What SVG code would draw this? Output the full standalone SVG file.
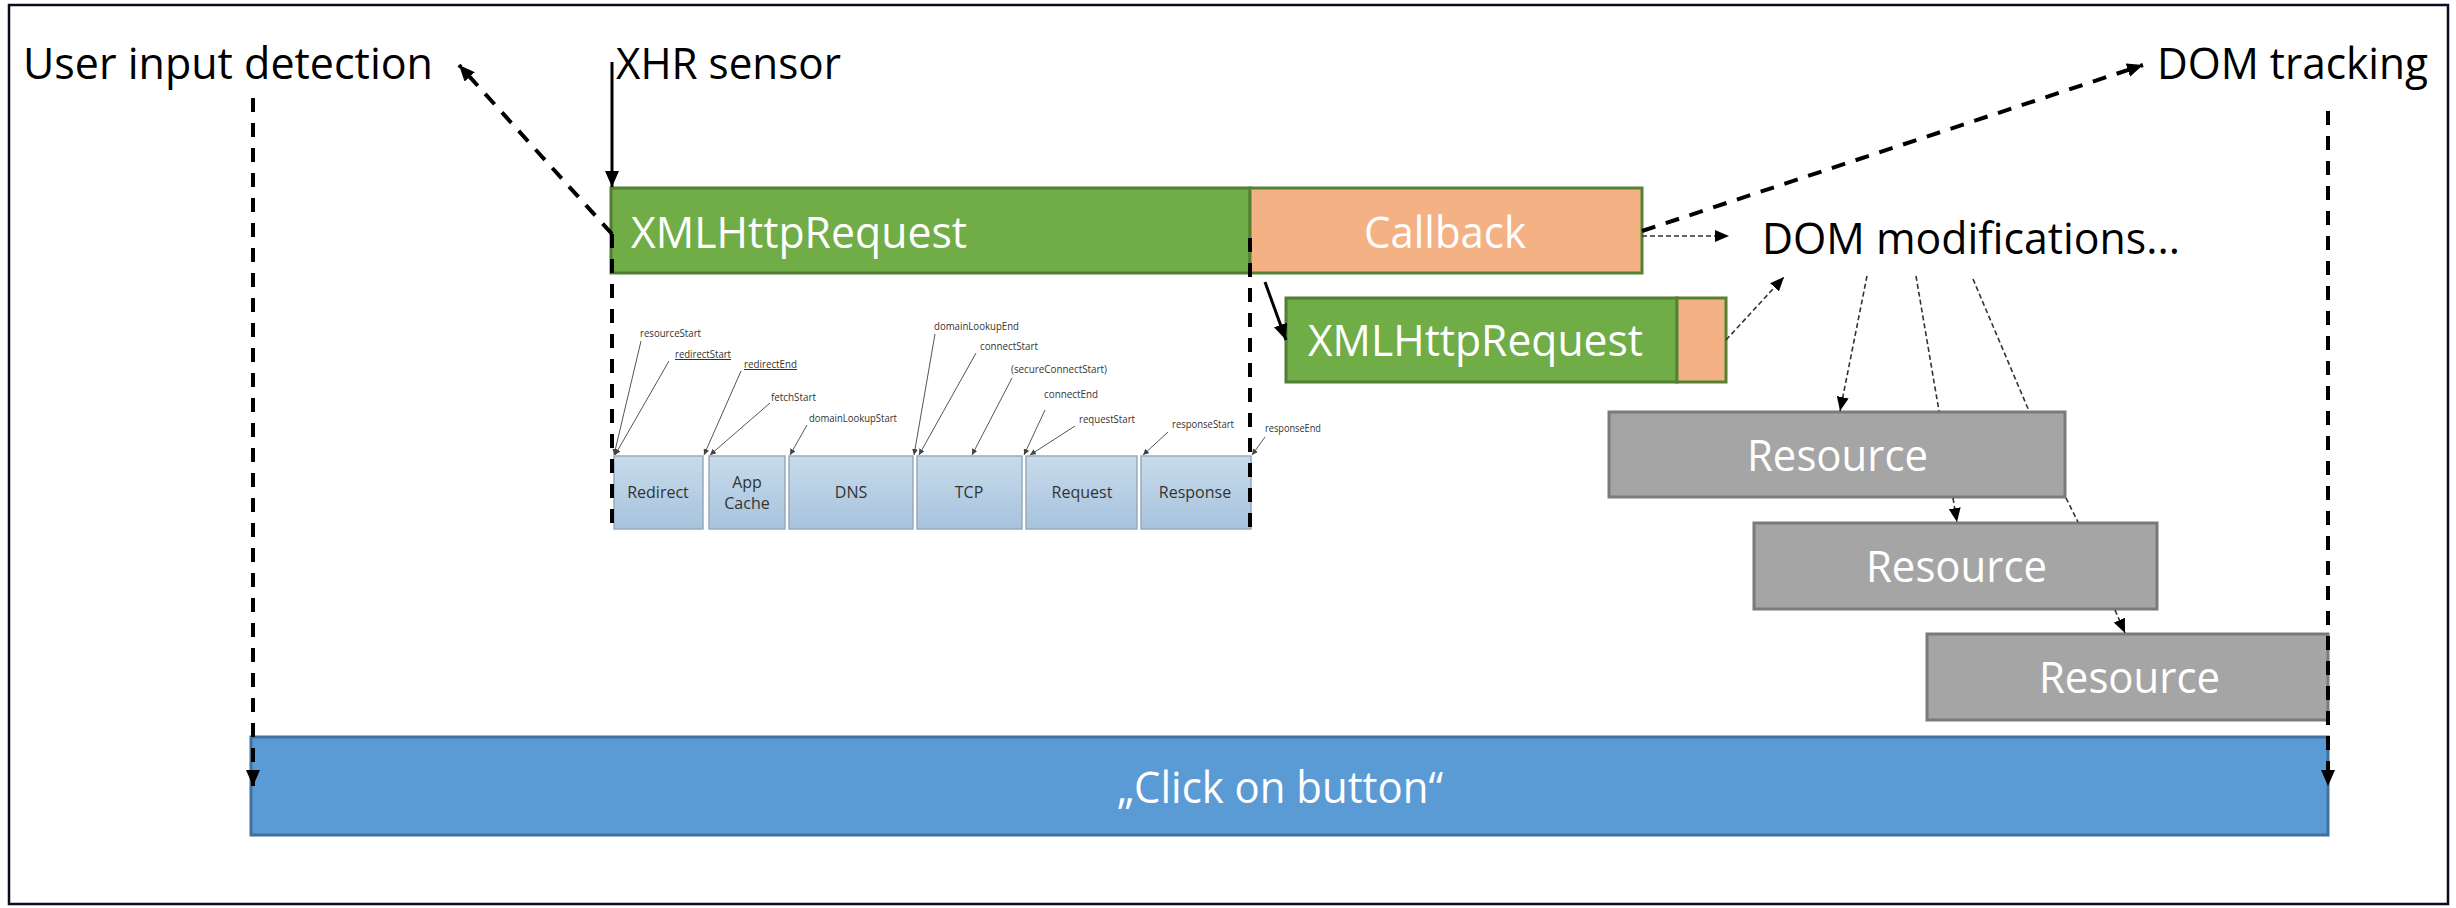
<svg xmlns="http://www.w3.org/2000/svg" width="2456" height="908" viewBox="0 0 2456 908">
  <style>
    .lbl { font-family: "Open Sans", "Liberation Sans", sans-serif; font-size: 44px; fill: #000; }
    .in { font-family: "Open Sans", "Liberation Sans", sans-serif; font-size: 44px; fill: #fff; }
    .tbox { fill: url(#tgrad); stroke: #98aabb; stroke-width: 1.5; }
    .tlbl { font-family: "Open Sans", "Liberation Sans", sans-serif; font-size: 16px; fill: #333; text-anchor: middle; }
    .ann { font-family: "Open Sans", "Liberation Sans", sans-serif; font-size: 10px; fill: #333; }
    .annl { stroke: #555; stroke-width: 1; fill: none; marker-end: url(#tip); }
    .thick { stroke: #000; stroke-width: 4; fill: none; stroke-dasharray: 14 11; }
    .solid { stroke: #000; stroke-width: 3; fill: none; }
    .dot { stroke: #333; stroke-width: 1.6; fill: none; stroke-dasharray: 5 3; }
    .green { fill: #70ad47; stroke: #507e32; stroke-width: 3; }
    .orange { fill: #f4b183; stroke: #548235; stroke-width: 3; }
    .gray { fill: #a5a5a5; stroke: #7a7a7a; stroke-width: 3; }
    .blue { fill: #5b9bd5; stroke: #41719c; stroke-width: 3; }
  </style>
  <defs>
    <linearGradient id="tgrad" x1="0" y1="0" x2="0" y2="1">
      <stop offset="0" stop-color="#c8dbec"/>
      <stop offset="1" stop-color="#a7c3dd"/>
    </linearGradient>
    <marker id="ah" viewBox="0 0 16 14" refX="16" refY="7" markerWidth="16" markerHeight="14" markerUnits="userSpaceOnUse" orient="auto">
      <path d="M0,0 L16,7 L0,14 z" fill="#000"/>
    </marker>
    <marker id="ahs" viewBox="0 0 14 12" refX="14" refY="6" markerWidth="14" markerHeight="12" markerUnits="userSpaceOnUse" orient="auto">
      <path d="M0,0 L14,6 L0,12 z" fill="#000"/>
    </marker>
    <marker id="tip" viewBox="0 0 6 6" refX="6" refY="3" markerWidth="6" markerHeight="6" markerUnits="userSpaceOnUse" orient="auto">
      <path d="M0,0 L6,3 L0,6 z" fill="#444"/>
    </marker>
  </defs>

  <rect x="0" y="0" width="2456" height="908" fill="#fff"/>
  <rect x="9" y="5" width="2439" height="899" fill="#fff" stroke="#0b0b22" stroke-width="2.5"/>

  <!-- headings -->
  <g id="label-user-input">
    <text class="lbl" x="23" y="79" textLength="410" lengthAdjust="spacingAndGlyphs">User input detection</text>
  </g>
  <g id="label-xhr-sensor">
    <text class="lbl" x="616" y="79" textLength="225" lengthAdjust="spacingAndGlyphs">XHR sensor</text>
  </g>
  <g id="label-dom-tracking">
    <text class="lbl" x="2157" y="79" textLength="271" lengthAdjust="spacingAndGlyphs">DOM tracking</text>
  </g>
  <g id="label-dom-mods">
    <text class="lbl" x="1762" y="254" textLength="418" lengthAdjust="spacingAndGlyphs">DOM modifications...</text>
  </g>

  <!-- request / callback bars -->
  <g id="xhr-main">
    <rect class="green" x="611" y="188" width="639" height="85"/>
    <text class="in" x="631" y="248" textLength="336" lengthAdjust="spacingAndGlyphs">XMLHttpRequest</text>
  </g>
  <g id="callback">
    <rect class="orange" x="1250" y="188" width="392" height="85"/>
    <text class="in" x="1364" y="248" textLength="162" lengthAdjust="spacingAndGlyphs">Callback</text>
  </g>
  <g id="xhr-second">
    <rect class="green" x="1286" y="298" width="391" height="84"/>
    <rect class="orange" x="1677" y="298" width="49" height="84"/>
    <text class="in" x="1308" y="356" textLength="335" lengthAdjust="spacingAndGlyphs">XMLHttpRequest</text>
  </g>

  <!-- resources -->
  <g id="resource-1">
    <rect class="gray" x="1609" y="412" width="456" height="85"/>
    <text class="in" x="1747" y="471" textLength="181" lengthAdjust="spacingAndGlyphs">Resource</text>
  </g>
  <g id="resource-2">
    <rect class="gray" x="1754" y="523" width="403" height="86"/>
    <text class="in" x="1866" y="582" textLength="181" lengthAdjust="spacingAndGlyphs">Resource</text>
  </g>
  <g id="resource-3">
    <rect class="gray" x="1927" y="634" width="401" height="86"/>
    <text class="in" x="2039" y="693" textLength="181" lengthAdjust="spacingAndGlyphs">Resource</text>
  </g>

  <!-- user action bar -->
  <g id="click-bar">
    <rect class="blue" x="251" y="737" width="2077" height="98"/>
    <text class="in" x="1117" y="803" textLength="326" lengthAdjust="spacingAndGlyphs">„Click on button“</text>
  </g>

  <!-- resource timing phases -->
  <g id="timing">
    <rect class="tbox" x="614" y="456" width="89" height="73"/>
    <rect class="tbox" x="709" y="456" width="76" height="73"/>
    <rect class="tbox" x="789" y="456" width="124" height="73"/>
    <rect class="tbox" x="917" y="456" width="105" height="73"/>
    <rect class="tbox" x="1026" y="456" width="111" height="73"/>
    <rect class="tbox" x="1141" y="456" width="110" height="73"/>
    <text class="tlbl" x="658" y="498">Redirect</text>
    <text class="tlbl" x="747" y="488">App</text>
    <text class="tlbl" x="747" y="509">Cache</text>
    <text class="tlbl" x="851" y="498">DNS</text>
    <text class="tlbl" x="969" y="498">TCP</text>
    <text class="tlbl" x="1082" y="498">Request</text>
    <text class="tlbl" x="1195" y="498">Response</text>

    <text class="ann" x="640" y="337" textLength="61" lengthAdjust="spacingAndGlyphs">resourceStart</text>
    <text class="ann" x="675" y="358" textLength="56" lengthAdjust="spacingAndGlyphs" text-decoration="underline">redirectStart</text>
    <text class="ann" x="744" y="368" textLength="53" lengthAdjust="spacingAndGlyphs" text-decoration="underline">redirectEnd</text>
    <text class="ann" x="771" y="401" textLength="45" lengthAdjust="spacingAndGlyphs">fetchStart</text>
    <text class="ann" x="809" y="422" textLength="88" lengthAdjust="spacingAndGlyphs">domainLookupStart</text>
    <text class="ann" x="934" y="330" textLength="85" lengthAdjust="spacingAndGlyphs">domainLookupEnd</text>
    <text class="ann" x="980" y="350" textLength="58" lengthAdjust="spacingAndGlyphs">connectStart</text>
    <text class="ann" x="1011" y="373" textLength="96" lengthAdjust="spacingAndGlyphs">(secureConnectStart)</text>
    <text class="ann" x="1044" y="398" textLength="54" lengthAdjust="spacingAndGlyphs">connectEnd</text>
    <text class="ann" x="1079" y="423" textLength="56" lengthAdjust="spacingAndGlyphs">requestStart</text>
    <text class="ann" x="1172" y="428" textLength="62" lengthAdjust="spacingAndGlyphs">responseStart</text>
    <text class="ann" x="1265" y="432" textLength="56" lengthAdjust="spacingAndGlyphs">responseEnd</text>

    <line class="annl" x1="641" y1="341" x2="614" y2="455"/>
    <line class="annl" x1="669" y1="361" x2="615" y2="455"/>
    <line class="annl" x1="741" y1="371" x2="704" y2="455"/>
    <line class="annl" x1="770" y1="403" x2="710" y2="455"/>
    <line class="annl" x1="807" y1="425" x2="790" y2="455"/>
    <line class="annl" x1="935" y1="334" x2="914" y2="455"/>
    <line class="annl" x1="976" y1="353" x2="919" y2="455"/>
    <line class="annl" x1="1012" y1="378" x2="972" y2="455"/>
    <line class="annl" x1="1045" y1="410" x2="1024" y2="455"/>
    <line class="annl" x1="1075" y1="426" x2="1030" y2="455"/>
    <line class="annl" x1="1168" y1="432" x2="1143" y2="455"/>
    <line class="annl" x1="1265" y1="437" x2="1252" y2="455"/>
  </g>

  <!-- connectors -->
  <g id="connectors">
    <line class="thick" x1="253" y1="98" x2="253" y2="786" marker-end="url(#ah)"/>
    <line class="thick" x1="2328" y1="111" x2="2328" y2="786" stroke-dasharray="3 11 14 11 14 11" marker-end="url(#ah)"/>
    <line class="solid" x1="612" y1="62" x2="612" y2="187" marker-end="url(#ah)"/>
    <line class="thick" x1="612" y1="234" x2="459" y2="65" marker-end="url(#ah)"/>
    <line class="thick" x1="612" y1="234" x2="612" y2="529"/>
    <line class="thick" x1="1250" y1="238" x2="1250" y2="529"/>
    <line class="thick" x1="1642" y1="231" x2="2143" y2="65" marker-end="url(#ah)"/>
    <line class="dot" x1="1642" y1="236" x2="1729" y2="236" marker-end="url(#ahs)"/>
    <line class="solid" x1="1265" y1="282" x2="1286" y2="340" marker-end="url(#ah)"/>
    <line class="dot" x1="1726" y1="340" x2="1784" y2="277" marker-end="url(#ahs)"/>
    <line class="dot" x1="1867" y1="276" x2="1840" y2="411" marker-end="url(#ahs)"/>
    <line class="dot" x1="1916" y1="276" x2="1939" y2="411"/>
    <line class="dot" x1="1953" y1="498" x2="1957" y2="522" marker-end="url(#ahs)"/>
    <line class="dot" x1="1973" y1="279" x2="2029" y2="411"/>
    <line class="dot" x1="2066" y1="498" x2="2078" y2="522"/>
    <line class="dot" x1="2115" y1="610" x2="2125" y2="633" marker-end="url(#ahs)"/>
  </g>
</svg>
